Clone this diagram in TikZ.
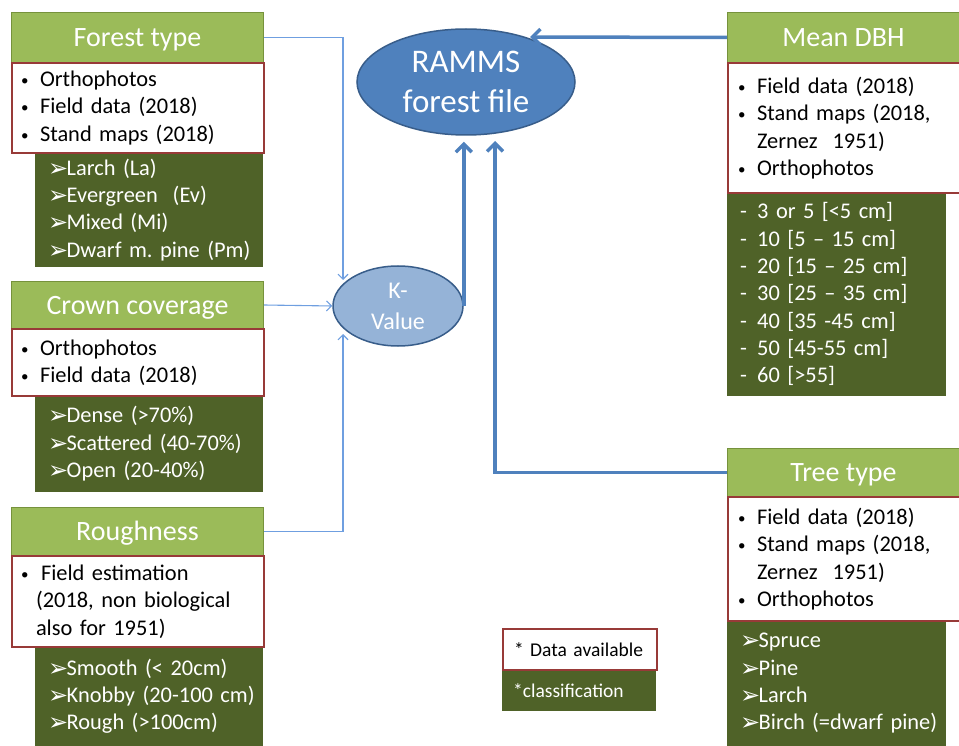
\documentclass[tikz,border=0pt]{standalone}
\usepackage{fontspec}
\setmainfont{Carlito}
\newfontfamily\symfont{DejaVu Sans}
\usetikzlibrary{arrows.meta,positioning,shapes.geometric}

\definecolor{hdrgreen}{HTML}{9BBB59}
\definecolor{hdrline}{HTML}{76923C}
\definecolor{darkgreen}{HTML}{4F6228}
\definecolor{srcred}{HTML}{983A38}
\definecolor{fileblue}{HTML}{4F81BD}
\definecolor{fileline}{HTML}{385D8A}
\definecolor{kblue}{HTML}{95B3D7}
\definecolor{thinblue}{HTML}{6F9FE0}

\frenchspacing
\newcommand{\bul}{\makebox[19pt][l]{\raisebox{1pt}{\fontsize{15}{15}\selectfont •}}}
\newcommand{\carr}{\hspace*{13pt}\makebox[18.5pt][l]{\raisebox{-1pt}{\symfont\fontsize{24}{24}\selectfont ➢}}}
\newcommand{\dsh}{\hspace*{13pt}\makebox[17pt][l]{-}}

\tikzset{
  hdr/.style={fill=hdrgreen, draw=hdrline, line width=1pt, text=white,
    font=\fontsize{28}{32}\selectfont, anchor=north west,
    minimum width=252pt, minimum height=50pt, inner sep=0pt,
    text height=21pt, text depth=3pt},
  src/.style={fill=white, draw=srcred, line width=2pt, anchor=north west,
    minimum width=252pt, text width=234pt, inner xsep=9pt, inner ysep=0pt,
    align=left, font=\fontsize{22.4}{27.3}\selectfont},
  cls/.style={fill=darkgreen, text=white, anchor=north west,
    text width=228pt, inner sep=0pt,
    align=left, font=\fontsize{22.4}{27.3}\selectfont},
  thinconn/.style={draw=thinblue, line width=1.1pt, -{Straight Barb[length=5pt,width=10pt]}},
  thickconn/.style={draw=fileblue, line width=3.5pt, -{Straight Barb[length=8pt,width=16pt]}}
}

\begin{document}
\begin{tikzpicture}[x=1pt,y=-1pt]
\useasboundingbox (0,0) rectangle (959,746);

% forest type
\node[hdr] (ft) at (11,12) {Forest type};
\node[cls, minimum height=115pt] (ftc) at (35,152)
  {\carr Larch (La)\\\carr Evergreen~ (Ev)\\\carr Mixed (Mi)\\\carr Dwarf m. pine (Pm)};
\node[src, minimum height=90pt] (fts) at (11,62)
  {\bul Orthophotos\\\bul Field data (2018)\\\bul Stand maps (2018)};

% crown coverage
\node[hdr, minimum height=47pt] (cc) at (11,281) {Crown coverage};
\node[cls, minimum height=97pt] (ccc) at (35,395)
  {\carr Dense (>70\%)\\\carr Scattered (40-70\%)\\\carr Open (20-40\%)};
\node[src, minimum height=67pt] (ccs) at (11,328)
  {\bul Orthophotos\\\bul Field data (2018)};

% roughness
\node[hdr, minimum height=48pt] (rg) at (11,507) {Roughness};
\node[cls, minimum height=100pt] (rgc) at (35,646)
  {\carr Smooth (< 20cm)\\\carr Knobby (20-100 cm)\\\carr Rough (>100cm)};
\node[src, minimum height=91pt] (rgs) at (11,555)
  {\bul\hspace{1pt}Field estimation\\\hspace*{15pt}(2018, non biological\\\hspace*{15pt}also for 1951)};

% mean dbh
\node[hdr, minimum width=232pt] (dbh) at (727,12) {Mean DBH};
\node[cls, text width=219pt, minimum height=204pt] (dbhc) at (727,192)
  {\dsh 3 or 5 [<5 cm]\\\dsh 10 [5 -- 15 cm]\\\dsh 20 [15 -- 25 cm]\\\dsh 30 [25 -- 35 cm]\\
   \dsh 40 [35 -45 cm]\\\dsh 50 [45-55 cm]\\\dsh 60 [>55]};
\node[src, minimum width=232pt, text width=212pt, inner xsep=10pt, minimum height=130pt] (dbhs) at (727,62)
  {\bul Field data (2018)\\\bul Stand maps (2018,\\\hspace*{19pt}Zernez~ 1951)\\\bul Orthophotos};

% tree type
\node[hdr, minimum width=232pt, minimum height=48pt] (tt) at (727,448) {Tree type};
\node[cls, text width=219pt, minimum height=126pt] (ttc) at (727,620)
  {\carr Spruce\\\carr Pine\\\carr Larch\\\carr Birch (=dwarf pine)};
\node[src, minimum width=232pt, text width=212pt, inner xsep=10pt, minimum height=124pt] (tts) at (727,496)
  {\bul Field data (2018)\\\bul Stand maps (2018,\\\hspace*{19pt}Zernez~ 1951)\\\bul Orthophotos};

% legend
\node[cls, text width=154pt, minimum height=42pt,
  font=\fontsize{19.5}{23}\selectfont] (legc) at (502,669) {\hspace*{11pt}*classification};
\node[src, minimum width=154pt, text width=132pt, inner xsep=11pt, minimum height=41pt,
  font=\fontsize{19.5}{23}\selectfont] (legs) at (502,628) {* Data available};

% ellipses
\node[ellipse, fill=fileblue, draw=fileline, line width=1.5pt, text=white, align=center,
  minimum width=218pt, minimum height=106pt, font=\fontsize{33}{40}\selectfont] (ramms) at (466,82)
  {RAMMS\\forest file};
\node[ellipse, fill=kblue, draw=fileline, line width=1.5pt, text=white, align=center,
  minimum width=130pt, minimum height=80pt, font=\fontsize{24}{31}\selectfont] (kval) at (398,306)
  {K-\\Value};

% connectors
\coordinate (ktop) at (343,280);
\coordinate (kbot) at (343,334);
\coordinate (rin) at (495,141);
\coordinate (rtop) at (530,37);
\draw[thinconn] (ft.east) -| (ktop);
\draw[thinconn] (cc.east) -- (kval.west);
\draw[thinconn] (rg.east) -| (kbot);
\draw[thickconn, shorten >=6pt] (kval.east) -- (kval.east |- ramms.south);
\draw[thickconn] (tt.west) -| (rin);
\draw[thickconn] (dbh.west) -- (rtop);
\end{tikzpicture}
\end{document}
